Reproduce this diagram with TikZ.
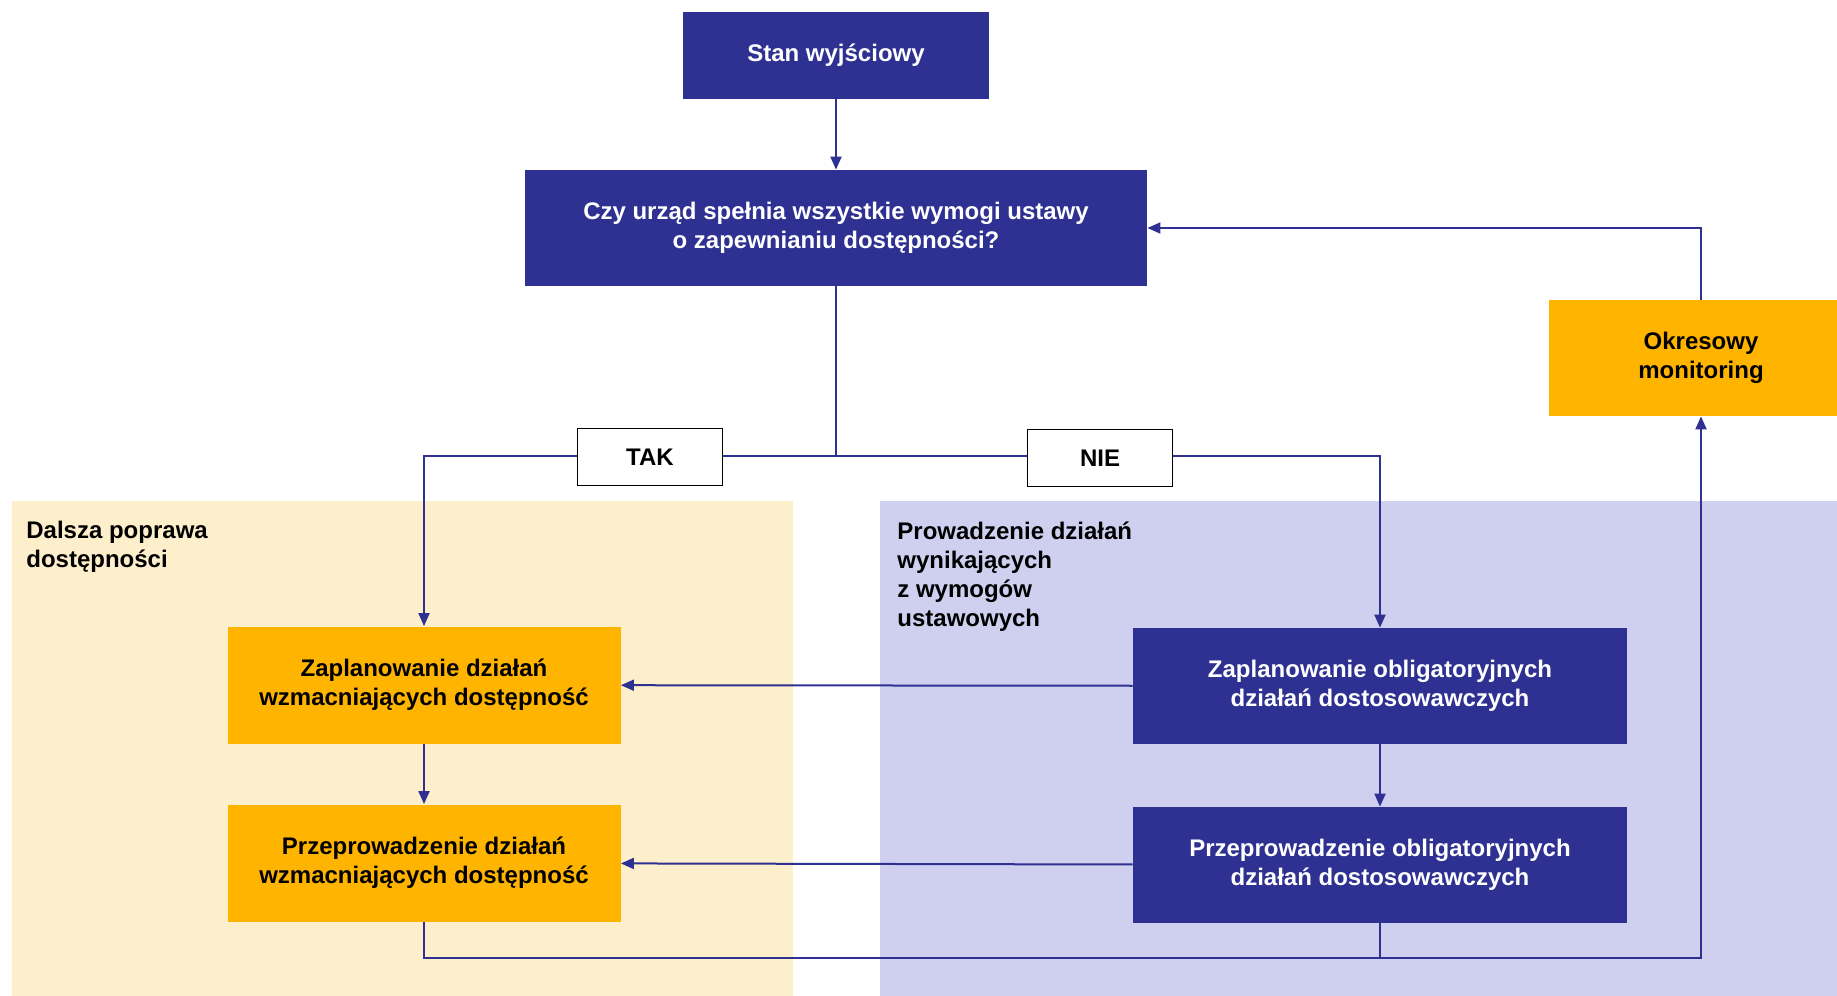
\documentclass[tikz,border=0pt]{standalone}
\usepackage{fontspec}
\setmainfont{Liberation Sans}
\usetikzlibrary{arrows.meta}
\definecolor{navy}{HTML}{2E3192}
\definecolor{amber}{HTML}{FFB400}
\definecolor{cream}{HTML}{FEEFCC}
\definecolor{lavender}{HTML}{CFD0EF}
\newcommand{\boxfont}{\fontsize{12}{14.6}\selectfont\bfseries}

\begin{document}
\begin{tikzpicture}[x=0.5pt,y=-0.5pt,
		darkbox/.style={fill=navy,text=white,font=\boxfont,align=center,inner sep=0pt},
		ambox/.style={fill=amber,text=black,font=\boxfont,align=center,inner sep=0pt},
		tagbox/.style={draw=black,fill=white,line width=0.8pt,font=\boxfont,minimum width=72.5pt,minimum height=28.5pt},
		paneltext/.style={anchor=north west,align=left,inner sep=0pt,font=\boxfont},
		link/.style={draw=navy,line width=1pt},
		arr/.style={link,-{Triangle[width=5.5pt,length=6.5pt]}}]
		\useasboundingbox (0,0) rectangle (1837,996);
		%put the two panels in the back
		\fill[cream] (12,501) rectangle (793,996);
		\fill[lavender] (880,501) rectangle (1837,996);
		\node[paneltext] (leftlabel) at (26,521) {Dalsza poprawa\\dostępności};
		\node[paneltext] (rightlabel) at (897,521) {Prowadzenie działań\\wynikających\\z wymogów\\ustawowych};
		%put the question on top
		\node[darkbox,minimum width=153pt,minimum height=43.5pt] (start) at (836,55) {Stan wyjściowy};
		\node[darkbox,minimum width=311pt,minimum height=58pt] (ask) at (836,228) {Czy urząd spełnia wszystkie wymogi ustawy\\o zapewnianiu dostępności?};
		\node[ambox,minimum width=152pt,minimum height=58pt] (monit) at (1701,358) {Okresowy\\monitoring};
		%put the boxes on the left
		\node[ambox,minimum width=196.5pt,minimum height=58.5pt] (zapL) at (424,685) {Zaplanowanie działań\\wzmacniających dostępność};
		\node[ambox,minimum width=196.5pt,minimum height=58.5pt] (przL) at (424,863) {Przeprowadzenie działań\\wzmacniających dostępność};
		%put the boxes on the right
		\node[darkbox,minimum width=247pt,minimum height=58pt] (zapR) at (1380,686) {Zaplanowanie obligatoryjnych\\działań dostosowawczych};
		\node[darkbox,minimum width=247pt,minimum height=58pt] (przR) at (1380,865) {Przeprowadzenie obligatoryjnych\\działań dostosowawczych};
		\coordinate (split) at (836,456);
		\coordinate (loop) at (1701,958);
		\draw[arr] (start) -- (ask);
		\draw[link] (ask) -- (split);
		\draw[arr] (split) -| (zapL);
		\draw[arr] (split) -| (zapR);
		\draw[arr] (zapL) -- (przL);
		\draw[arr] (zapR) -- (przR);
		\draw[arr] (zapR) -- (zapL);
		\draw[arr] (przR) -- (przL);
		\draw[arr] (przL) |- (loop) -- (monit);
		\draw[link] (przR) -- (przR |- loop);
		\draw[arr] (monit) |- (ask);
		%put the answers over the lines
		\node[tagbox] (tak) at (650,457) {TAK};
		\node[tagbox] (nie) at (1100,458) {NIE};
\end{tikzpicture}
\end{document}
